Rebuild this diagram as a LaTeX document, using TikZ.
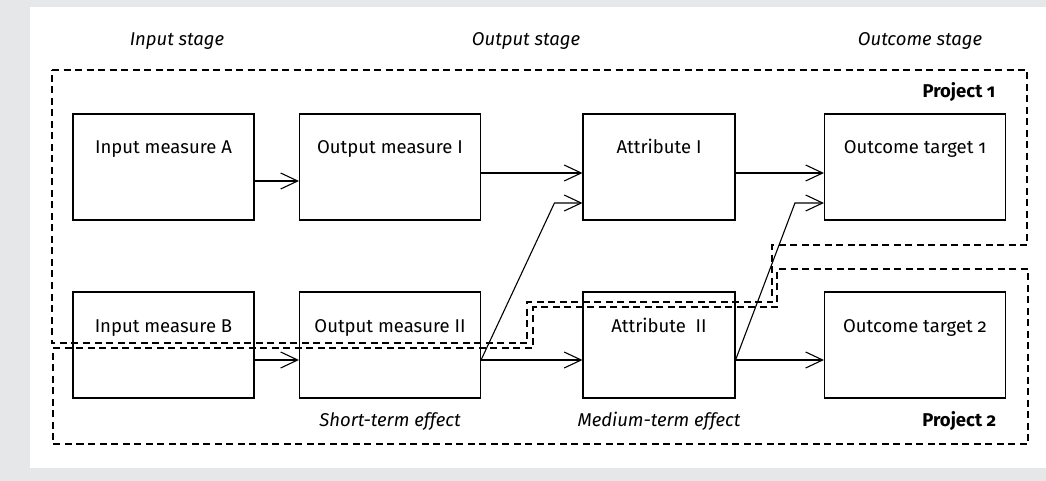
\documentclass[tikz,border=0pt]{standalone}
\usepackage{fontspec}
\setmainfont{Fira Sans}[Numbers=OldStyle]
\usetikzlibrary{arrows.meta}
\definecolor{panelgray}{RGB}{230,231,233}

\begin{document}
\begin{tikzpicture}[x=1pt, y=-1pt, line width=1.1pt, font=\fontsize{18.5}{22}\selectfont,
	box node/.style={draw, inner sep=0pt, minimum height=106pt, text height=40pt, text depth=66pt},
	wide box/.style={box node, minimum width=181pt},
	narrow box/.style={box node, minimum width=152pt},
	stage label/.style={font=\fontsize{18.5}{22}\selectfont\itshape, anchor=base},
	project label/.style={font=\fontsize{18.5}{22}\selectfont\bfseries, anchor=base east},
	project line/.style={dash pattern=on 7pt off 4.5pt},
	arrow/.style={-{Straight Barb[length=17pt,width=16pt]}}]
	\useasboundingbox (0,0) rectangle (1046,481);
	\fill[panelgray] (0,0) rectangle (1046,481);
	\fill[white] (30,7) rectangle (1046,468);

	% stages
	\node[stage label] (StIn) at (177,46) {Input stage};
	\node[stage label] (StOut) at (526,46) {Output stage};
	\node[stage label] (StOc) at (920,46) {Outcome stage};

	% project frames
	\draw[project line] (52,70) -- (1027,70) -- (1027,245) -- (772,245) -- (772,302)
		-- (527,302) -- (527,343) -- (52,343) -- cycle;
	\draw[project line] (53,348) -- (533,348) -- (533,307) -- (777,307) -- (777,269)
		-- (1028,269) -- (1028,444) -- (53,444) -- cycle;
	\node[project label] (P1) at (999,98) {Project 1};
	\node[project label] (P2) at (1000,426) {Project 2};

	% boxes
	\node[wide box] (InA) at (163.5,167) {Input measure A};
	\node[wide box] (OutI) at (390,167) {Output measure I};
	\node[narrow box] (AttI) at (659,167) {Attribute I};
	\node[wide box] (TgtA) at (915,167) {Outcome target 1};
	\node[wide box] (InB) at (163.5,345) {Input measure B};
	\node[wide box] (OutII) at (390,345) {Output measure II};
	\node[narrow box] (AttII) at (659,345) {Attribute \ II};
	\node[wide box] (TgtB) at (915,345) {Outcome target 2};

	\node[stage label] (Short) at (390,426) {Short-term effect};
	\node[stage label] (Medium) at (659,426) {Medium-term effect};

	% effects
	\path[arrow]
		([yshift=-14pt]InA.east) edge ([yshift=-14pt]OutI.west)
		([yshift=-6pt]OutI.east) edge ([yshift=-6pt]AttI.west)
		([yshift=-6pt]AttI.east) edge ([yshift=-6pt]TgtA.west)
		([yshift=-15pt]InB.east) edge ([yshift=-15pt]OutII.west)
		([yshift=-15pt]OutII.east) edge ([yshift=-15pt]AttII.west)
		([yshift=-15pt]AttII.east) edge ([yshift=-15pt]TgtB.west);
	\draw[arrow] ([yshift=-15pt]OutII.east) -- ([xshift=-28pt,yshift=-36pt]AttI.west)
		-- ([yshift=-36pt]AttI.west);
	\draw[arrow] ([yshift=-15pt]AttII.east) -- ([xshift=-29pt,yshift=-36pt]TgtA.west)
		-- ([yshift=-36pt]TgtA.west);
\end{tikzpicture}
\end{document}
